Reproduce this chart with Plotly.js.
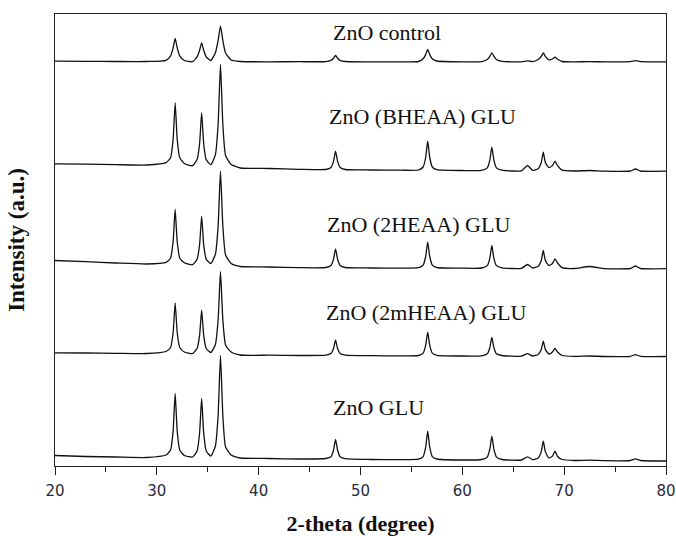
<!DOCTYPE html>
<html>
<head>
<meta charset="utf-8">
<script src="https://cdn.plot.ly/plotly-3.0.1.min.js"></script>
<style>
  html, body { margin: 0; padding: 0; background: #fff; }
  #chart { width: 676px; height: 536px; }
</style>
</head>
<body>
<div id="chart"></div>
<script>
// 2-theta positions (degree)
const twoTheta = [20, 23, 26, 29, 30.9, 31.35, 31.6, 31.8, 32.0, 32.25, 32.7, 33.5, 33.95, 34.2, 34.4, 34.6, 34.85, 35.3, 35.75, 36.02,
  36.25, 36.48, 36.75, 37.3, 38.2, 41, 44, 46.6, 47.1, 47.35, 47.55, 47.75, 48.0, 48.5, 51, 54, 55.7, 56.15, 56.4, 56.6,
  56.8, 57.05, 57.5, 60, 61.9, 62.45, 62.7, 62.9, 63.1, 63.35, 63.9, 65.8, 66.4, 66.9, 67.45, 67.75, 67.95, 68.15, 68.5, 68.85,
  69.1, 69.35, 69.8, 71, 72.5, 74, 76.5, 77.0, 77.5, 80];

// stacked intensities (a.u.)
const znoControl = [404.8, 404.7, 404.5, 404.5, 405.7, 410.1, 418.1, 427.5, 418.1, 410.1, 405.5, 404.3, 409.1, 415.7, 423.2, 415.7, 409.1, 405.5, 413.2, 425.6,
  439.8, 425.6, 413, 406, 404.5, 404.2, 404.3, 404.4, 405.7, 407.8, 410.5, 407.8, 405.7, 404.5, 404.2, 404.2, 404.5, 407.2, 411.4, 416.5,
  411.4, 407.2, 405, 404.2, 404.4, 406.5, 409.6, 413.2, 409.6, 406.5, 404.6, 404.2, 405.2, 404.3, 406.5, 409.6, 413.2, 409.6, 406.2, 407,
  408.8, 406.8, 404.5, 404.2, 404.3, 404.2, 404.3, 405.3, 404.3, 404.2];

const znoBHEAA = [302.2, 301.8, 301.4, 301, 303.3, 308.3, 326.8, 363.2, 326.8, 308.3, 302.5, 300.3, 306.4, 322.3, 353.2, 322.3, 306.4, 301.3, 311.3, 342,
  401.5, 342, 310.5, 301.5, 298, 297.5, 296.7, 296.5, 298.5, 304.6, 314.8, 304.6, 298.5, 296.5, 296, 295.8, 296, 299, 308.5, 324.8,
  308.5, 299, 296.3, 295.5, 295.6, 298.1, 305.8, 318.8, 305.8, 298.1, 295.8, 295.2, 300.5, 295.7, 297.3, 303.5, 313.8, 303.5, 298.5, 300.5,
  304.8, 300.3, 295.8, 295, 295.5, 294.8, 295, 297, 295, 294.8];

const zno2HEAA = [205.5, 204.3, 203, 202, 203.7, 208, 224.5, 256.5, 224.5, 208, 203.3, 201.2, 206.8, 221.4, 249.8, 221.4, 206.8, 202.5, 211.7, 240.3,
  294.8, 240.3, 211, 202.5, 199.5, 199, 198.3, 198.5, 200.5, 206.7, 217.2, 206.7, 200.5, 198.5, 198, 197.8, 198.3, 200.9, 209.5, 223.8,
  209.5, 200.9, 198.5, 197.8, 198, 200.4, 207.7, 220.5, 207.7, 200.4, 198.2, 197.6, 201.5, 198, 199.7, 205.5, 215.5, 205.5, 200.5, 202.5,
  207.2, 203, 198.3, 197.5, 199.5, 197.3, 197.5, 200, 197.5, 197.3];

const zno2mHEAA = [113.2, 113, 112.7, 112.5, 114.5, 118.5, 133.5, 163.2, 133.5, 118.5, 114, 112.4, 117.5, 130.6, 155.8, 130.6, 117.5, 113.5, 121.5, 146.5,
  194.5, 146.5, 121, 114, 111, 110.8, 110.5, 110.8, 112.4, 117.5, 125.8, 117.5, 112.4, 110.8, 110.3, 110.2, 110.5, 112.9, 120.7, 133.8,
  120.7, 112.9, 110.7, 110, 110.2, 112.2, 118.3, 128.5, 118.3, 112.2, 110.5, 109.8, 112.3, 110, 111.6, 116.6, 124.8, 116.6, 112, 114,
  117.5, 114, 110.5, 109.6, 110, 109.5, 109.7, 111.3, 109.7, 109.5];

const znoGLU = [10.5, 9.5, 9, 8.5, 11, 16, 35, 72.5, 35, 16, 10.5, 9, 15, 33, 67.5, 33, 15, 10, 20, 51,
  110.5, 51, 19, 11, 8, 7.5, 7, 7.5, 9.3, 15.8, 26.5, 15.8, 9.3, 7.3, 6.5, 6.3, 6.8, 9.4, 18.8, 34.8,
  18.8, 9.4, 7, 6, 6.5, 8.9, 16.8, 29.8, 16.8, 8.9, 6.5, 6, 9.2, 6.3, 8.1, 14.4, 24.8, 14.4, 8, 9.9,
  14.8, 9.5, 6.5, 5.5, 5.8, 5.3, 5.5, 7.2, 5.5, 5];

const sampleNames = ['ZnO control', 'ZnO (BHEAA) GLU', 'ZnO (2HEAA) GLU', 'ZnO (2mHEAA) GLU', 'ZnO GLU'];
const labelX = [47.1, 46.75, 46.55, 46.45, 47.15];
const labelY = [433.3, 350, 242, 153.7, 58.7];

const series = [znoControl, znoBHEAA, zno2HEAA, zno2mHEAA, znoGLU];

const traces = series.map((ys, i) => ({
  x: twoTheta,
  y: ys,
  type: 'scatter',
  mode: 'lines',
  name: sampleNames[i],
  line: { color: '#111', width: 1.3, shape: 'spline', smoothing: 0.5 },
  hoverinfo: 'x+y+name'
}));

const annotations = sampleNames.map((t, i) => ({
  text: t,
  x: labelX[i],
  y: labelY[i],
  xref: 'x', yref: 'y',
  xanchor: 'left', yanchor: 'middle',
  showarrow: false,
  font: { family: 'Liberation Serif, Times New Roman, serif', size: 22, color: '#111' }
}));

const layout = {
  width: 676, height: 536,
  margin: { l: 55, r: 10, t: 14, b: 70 },
  paper_bgcolor: '#fff', plot_bgcolor: '#fff',
  showlegend: false,
  xaxis: {
    range: [20, 80],
    tickmode: 'linear', tick0: 20, dtick: 10,
    ticks: 'outside', ticklen: 8, tickwidth: 1, tickcolor: '#222',
    minor: { dtick: 5, ticks: 'outside', ticklen: 5, tickwidth: 1, tickcolor: '#222', showgrid: false },
    showline: true, linecolor: '#222', linewidth: 1, mirror: true,
    showgrid: false, zeroline: false,
    tickfont: { family: 'DejaVu Sans, Verdana, sans-serif', size: 15, color: '#2a2a3a' },
    ticklabelstandoff: 3,
    title: { text: '2-theta (degree)', standoff: 17,
      font: { family: 'Liberation Serif, Times New Roman, serif', size: 22, color: '#111', weight: 'bold' } }
  },
  yaxis: {
    range: [0, 452],
    showline: true, linecolor: '#222', linewidth: 1, mirror: true,
    showgrid: false, zeroline: false,
    ticks: '', showticklabels: false,
    title: { text: 'Intensity (a.u.)', standoff: 22,
      font: { family: 'Liberation Serif, Times New Roman, serif', size: 23, color: '#111', weight: 'bold' } }
  },
  annotations: annotations
};

Plotly.newPlot('chart', traces, layout, { staticPlot: true, displayModeBar: false });
</script>
</body>
</html>
